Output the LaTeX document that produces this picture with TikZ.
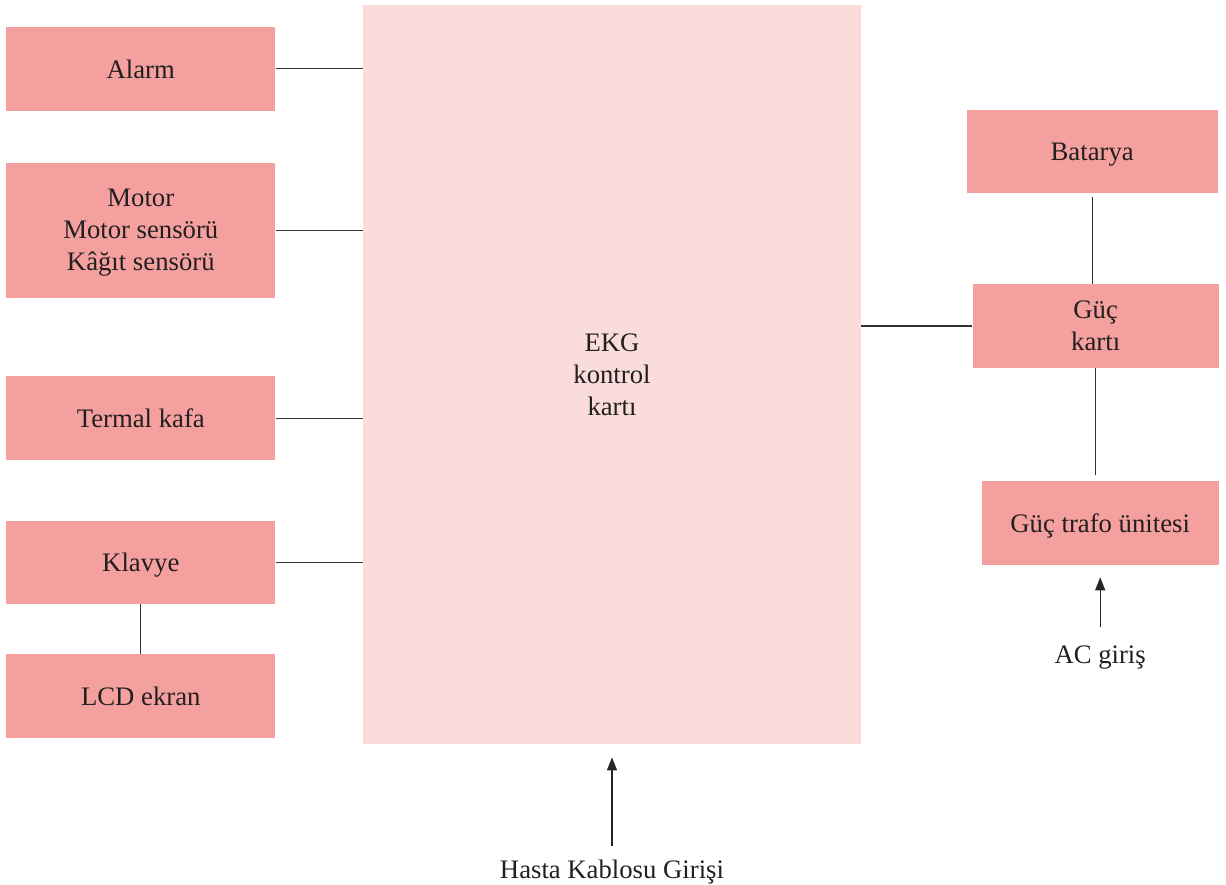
\documentclass[tikz,border=0pt]{standalone}
\usepackage{fontspec}
\setmainfont{Liberation Serif}
\usepackage{tikz}
\usetikzlibrary{arrows.meta, positioning}
\usepackage{xcolor}
\definecolor{unitfill}{HTML}{F4A09F}
\definecolor{boardfill}{HTML}{FADCDA}
\definecolor{inktext}{HTML}{231F20}
\tikzset{
    unit/.style={
        rectangle, draw=none, fill=unitfill,
        minimum width=53.8mm, minimum height=16.7mm,
        inner sep=0pt, text depth=0pt, text=inktext, align=center,
        font=\fontsize{15.2}{18.2}\selectfont
    },
    board/.style={
        rectangle, draw=none, fill=boardfill,
        minimum width=99.6mm, minimum height=147.8mm,
        inner sep=0pt, text=inktext, align=center,
        font=\fontsize{15.2}{18.2}\selectfont
    },
    io/.style={
        inner sep=0pt, text=inktext,
        font=\fontsize{15.2}{18.2}\selectfont
    },
    link/.style={draw=black!80, line width=0.7pt},
    arrow/.style={-{Triangle[length=2.6mm, width=2mm]}, draw=black!85, line width=0.7pt}
}
\begin{document}
\begin{tikzpicture}
    \useasboundingbox (-122.4mm,74.9mm) rectangle (122.8mm,-101.9mm);

    \node[board] (ekg) at (0,0) {EKG\\kontrol\\kartı};

    \node[unit, below left=4.4mm and 17.4mm of ekg.north west] (alarm) {Alarm};
    \node[unit, below=10.3mm of alarm, minimum height=27mm] (motor) {Motor\\Motor sensörü\\Kâğıt sensörü};
    \node[unit, below=15.6mm of motor] (termal) {Termal kafa};
    \node[unit, below=12mm of termal] (klavye) {Klavye};
    \node[unit, below=9.9mm of klavye] (lcd) {LCD ekran};

    \node[unit, right=22.2mm of ekg, yshift=9.7mm, minimum width=49.2mm] (guc) {Güç\\kartı};
    \node[unit, above=18.1mm of guc, xshift=-0.7mm, minimum width=50.2mm] (batarya) {Batarya};
    \node[unit, below=22.6mm of guc, xshift=0.9mm, minimum width=47.4mm] (trafo) {Güç trafo ünitesi};
    \node[io, below=16mm of trafo] (ac) {AC giriş};
    \node[io, below=23mm of ekg] (hasta) {Hasta Kablosu Girişi};

    \draw[link] (alarm.east) -- (alarm.east -| ekg.west);
    \draw[link] (motor.east) -- (motor.east -| ekg.west);
    \draw[link] (termal.east) -- (termal.east -| ekg.west);
    \draw[link] (klavye.east) -- (klavye.east -| ekg.west);
    \draw[link] (klavye) -- (lcd);
    \draw[link] (ekg.east |- guc.west) -- (guc.west);
    \draw[link, shorten <=0.7mm] (batarya.south) -- (batarya.south |- guc.north);
    \draw[link, shorten >=1.2mm] (guc.south) -- (guc.south |- trafo.north);
    \draw[arrow, shorten <=3.6mm, shorten >=2.4mm] (ac.north) -- (ac.north |- trafo.south);
    \draw[arrow, shorten <=2.6mm, shorten >=2.6mm] (hasta.north) -- (hasta.north |- ekg.south);
\end{tikzpicture}
\end{document}
